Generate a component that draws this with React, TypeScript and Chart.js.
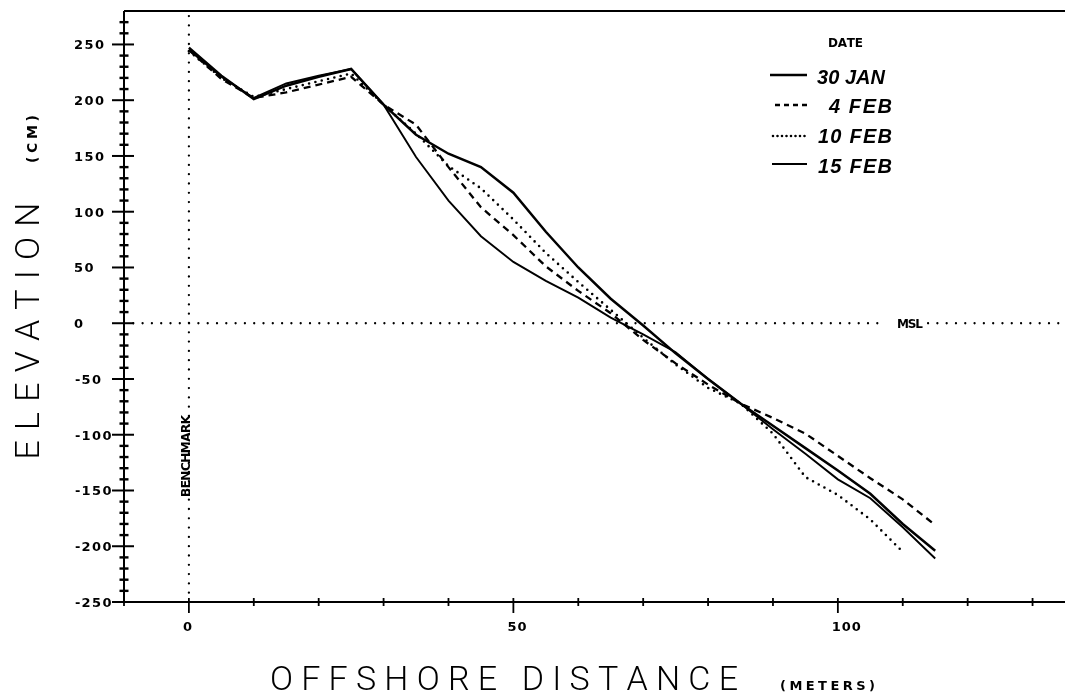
import React, { useEffect, useRef } from "react";
import { Chart, registerables } from "chart.js";

Chart.register(...registerables);

// ---- data ----
const distances = [0, 5, 10, 15, 20, 25, 30, 35, 40, 45, 50, 55, 60, 65, 70, 75, 80, 85, 90, 95, 100, 105, 110, 115];
const jan30 = [247, 222, 201, 213, 221, 228, 196, 169, 152, 140, 117, 82, 50, 22, -2, -27, -50, -72, -92, -112, -132, -153, -180, -204];
const feb4 = [245, 219, 202, 207, 214, 221, 196, 178, 140, 104, 79, 51, 29, 9, -15, -36, -55, -72, -85, -99, -119, -139, -158, -181];
const feb10 = [244, 220, 203, 210, 217, 224, 196, 170, 141, 121, 93, 63, 37, 12, -13, -37, -58, -72, -99, -138, -154, -176, -205];
const feb15 = [245, 221, 202, 215, 222, 228, 196, 149, 110, 78, 55, 38, 23, 5, -10, -26, -50, -72, -95, -117, -140, -157, -183, -211];
const seriesNames = ["30 JAN", "4 FEB", "10 FEB", "15 FEB"];

const xTickLabels = [0, 50, 100];
const yTickLabels = [250, 200, 150, 100, 50, 0, -50, -100, -150, -200, -250];

const xMin = -10;
const xMax = 135;
const yMin = -250;
const yMax = 280;
const benchmarkX = 0;
const mslY = 0;
const mslGap = [107.2, 113.9];

const mk = (vals: number[]) => vals.map((y, i) => ({ x: distances[i], y }));

const seriesStyles = [
  { width: 2.5, dash: [] as number[], cap: "butt" as CanvasLineCap },
  { width: 2.3, dash: [7, 5], cap: "butt" as CanvasLineCap },
  { width: 2.6, dash: [0, 6.5], cap: "round" as CanvasLineCap },
  { width: 1.9, dash: [] as number[], cap: "butt" as CanvasLineCap },
];

function spaced(ctx: CanvasRenderingContext2D, text: string, x: number, y: number, width: number, align: "left" | "center" = "left") {
  const chars = Array.from(text);
  const ws = chars.map((c) => ctx.measureText(c).width);
  const nat = ws.reduce((a, b) => a + b, 0);
  const sp = chars.length > 1 ? (width - nat) / (chars.length - 1) : 0;
  let cx = align === "left" ? x : x - width / 2;
  ctx.textAlign = "left";
  chars.forEach((c, i) => {
    ctx.fillText(c, cx, y);
    cx += ws[i] + sp;
  });
}

function cells(ctx: CanvasRenderingContext2D, text: string, x: number, y: number, cell: number, dashCell: number) {
  let cx = x;
  ctx.textAlign = "left";
  for (const ch of Array.from(text)) {
    ctx.fillText(ch, cx, y);
    cx += ch === "-" ? dashCell : cell;
  }
}

const decorPlugin = {
  id: "decor",
  afterDraw(chart: any) {
    const { ctx, chartArea: ca, scales } = chart;
    const xs = scales.x;
    const ys = scales.y;
    ctx.save();
    ctx.strokeStyle = "#000";
    ctx.fillStyle = "#000";
    ctx.setLineDash([]);
    ctx.lineCap = "butt";
    ctx.textBaseline = "alphabetic";

    // frame: left axis, bottom axis, top line
    ctx.lineWidth = 2;
    ctx.beginPath();
    ctx.moveTo(ca.left, ca.top);
    ctx.lineTo(ca.right, ca.top);
    ctx.moveTo(ca.left, ca.top);
    ctx.lineTo(ca.left, ca.bottom);
    ctx.lineTo(ca.right, ca.bottom);
    ctx.stroke();

    // y ticks
    ys.ticks.forEach((t: any) => {
      const v = t.value;
      if (v % 10 !== 0 || v > 270) return;
      const py = ys.getPixelForValue(v);
      const major = yTickLabels.includes(v);
      ctx.lineWidth = major ? 2 : 2.4;
      ctx.beginPath();
      if (major) {
        ctx.moveTo(ca.left - 12, py);
        ctx.lineTo(ca.left + 10, py);
      } else {
        ctx.moveTo(ca.left - 4.5, py);
        ctx.lineTo(ca.left + 4.5, py);
      }
      ctx.stroke();
    });

    // x ticks
    xs.ticks.forEach((t: any) => {
      const v = t.value;
      if (v % 10 !== 0 || v > 130) return;
      const px = xs.getPixelForValue(v);
      const major = xTickLabels.includes(v);
      ctx.lineWidth = 1.8;
      ctx.beginPath();
      ctx.moveTo(px, ca.bottom - 4);
      ctx.lineTo(px, major ? ca.bottom + 11 : ca.bottom + 4);
      ctx.stroke();
    });

    // tick labels
    ctx.font = 'bold 13px "DejaVu Sans"';
    yTickLabels.forEach((v) => {
      const py = ys.getPixelForValue(v);
      cells(ctx, String(v), v < 0 ? 75 : 74, py + 5, 10.5, 6.5);
    });
    xTickLabels.forEach((v) => {
      const px = xs.getPixelForValue(v);
      cells(ctx, String(v), px - 6, 631, 10, 6.5);
    });

    // axis titles
    ctx.font = '300 34px Roboto';
    spaced(ctx, "OFFSHORE DISTANCE", 270, 690, 468, "left");
    ctx.font = 'bold 13px "DejaVu Sans"';
    spaced(ctx, "(METERS)", 780, 690, 95, "left");

    ctx.save();
    ctx.translate(39, 331);
    ctx.rotate(-Math.PI / 2);
    ctx.font = '300 34px Roboto';
    spaced(ctx, "ELEVATION", 0, 0, 257, "center");
    ctx.restore();

    ctx.save();
    ctx.translate(37, 139);
    ctx.rotate(-Math.PI / 2);
    ctx.font = 'bold 14px "DejaVu Sans"';
    spaced(ctx, "(CM)", 0, 0, 48, "center");
    ctx.restore();

    // annotations
    ctx.save();
    ctx.translate(xs.getPixelForValue(benchmarkX) + 1.5, 456);
    ctx.rotate(-Math.PI / 2);
    ctx.font = 'bold 12px "DejaVu Sans"';
    spaced(ctx, "BENCHMARK", 0, 0, 82, "center");
    ctx.restore();

    ctx.font = 'bold 12px "DejaVu Sans"';
    spaced(ctx, "MSL", 897, ys.getPixelForValue(mslY) + 4.5, 26, "left");

    // legend
    spaced(ctx, "DATE", 828, 47, 35, "left");
    const legendLines = [
      { x1: 770, x2: 807, y: 75 },
      { x1: 775, x2: 807, y: 105 },
      { x1: 773, x2: 805, y: 136 },
      { x1: 772, x2: 807, y: 164 },
    ];
    const legendText = [
      { x: 817, y: 84, w: 68 },
      { x: 829, y: 113, w: 63 },
      { x: 818, y: 143, w: 74 },
      { x: 818, y: 173, w: 74 },
    ];
    seriesNames.forEach((name, i) => {
      const st = seriesStyles[i];
      const ln = legendLines[i];
      ctx.lineWidth = st.width;
      ctx.setLineDash(i === 1 ? [5, 4] : i === 2 ? [0, 4.5] : st.dash);
      ctx.lineCap = st.cap;
      ctx.beginPath();
      ctx.moveTo(ln.x1, ln.y);
      ctx.lineTo(ln.x2, ln.y);
      ctx.stroke();
      ctx.setLineDash([]);
      ctx.lineCap = "butt";
      ctx.font = 'italic bold 20px "Liberation Sans"';
      const tx = legendText[i];
      spaced(ctx, name, tx.x, tx.y, tx.w, "left");
    });

    ctx.restore();
  },
};

export default function App() {
  const ref = useRef<HTMLCanvasElement | null>(null);

  useEffect(() => {
    if (!ref.current) return;
    const series = [jan30, feb4, feb10, feb15];
    const datasets: any[] = series.map((vals, i) => ({
      label: seriesNames[i],
      data: mk(vals),
      borderColor: "#000",
      borderWidth: seriesStyles[i].width,
      borderDash: seriesStyles[i].dash,
      borderCapStyle: seriesStyles[i].cap,
      pointRadius: 0,
      tension: 0,
      fill: false,
    }));
    const refStyle = {
      borderColor: "#000",
      borderWidth: 2.3,
      borderDash: [0, 9.3],
      borderCapStyle: "round",
      pointRadius: 0,
      fill: false,
    };
    datasets.push({ label: "benchmark", data: [{ x: benchmarkX, y: yMin }, { x: benchmarkX, y: yMax }], ...refStyle });
    datasets.push({ label: "msl-a", data: [{ x: xMin, y: mslY }, { x: mslGap[0], y: mslY }], ...refStyle });
    datasets.push({ label: "msl-b", data: [{ x: mslGap[1], y: mslY }, { x: xMax, y: mslY }], ...refStyle });

    const chart = new Chart(ref.current, {
      type: "line",
      data: { datasets },
      options: {
        responsive: false,
        animation: false,
        devicePixelRatio: 1,
        layout: { padding: { top: 11, right: 0, left: 0, bottom: 0 } },
        plugins: { legend: { display: false }, tooltip: { enabled: false } },
        scales: {
          x: {
            type: "linear",
            min: xMin,
            max: xMax,
            grid: { display: false, drawTicks: false },
            border: { display: false },
            ticks: { display: false, stepSize: 10 },
            afterFit: (s: any) => {
              s.height = 91;
            },
          },
          y: {
            type: "linear",
            min: yMin,
            max: yMax,
            grid: { display: false, drawTicks: false },
            border: { display: false },
            ticks: { display: false, stepSize: 10 },
            afterFit: (s: any) => {
              s.width = 124;
            },
          },
        },
      } as any,
      plugins: [decorPlugin as any],
    });
    return () => chart.destroy();
  }, []);

  return (
    <div style={{ position: "absolute", left: 0, top: 0, width: 1065, height: 693, background: "#fff" }}>
      <canvas ref={ref} width={1065} height={693} />
    </div>
  );
}
